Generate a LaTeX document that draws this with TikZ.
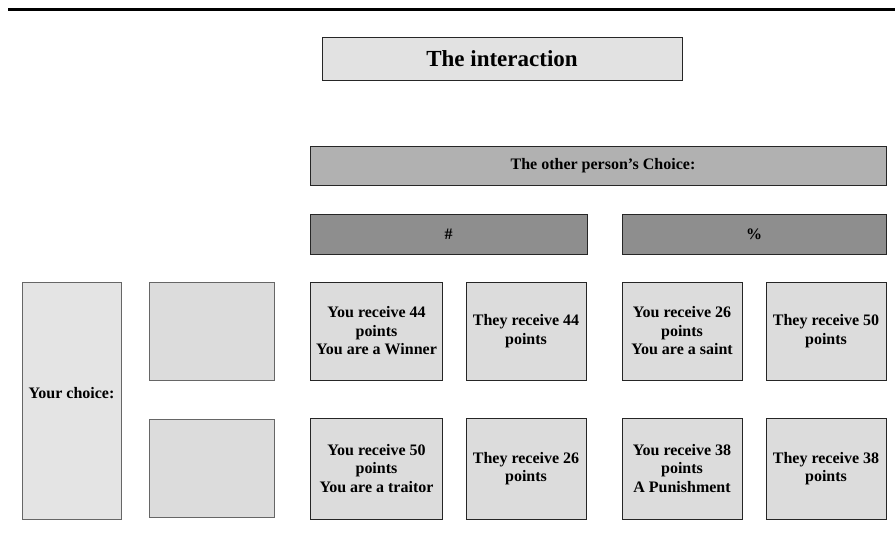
\documentclass[tikz,border=0pt]{standalone}
\usepackage{fontspec}
\setmainfont{Liberation Serif}
\usepackage{tikz}

\definecolor{titlegray}{HTML}{E2E2E2}
\definecolor{headgray}{HTML}{B1B1B1}
\definecolor{optgray}{HTML}{8E8E8E}
\definecolor{cellgray}{HTML}{DCDCDC}
\definecolor{sidegray}{HTML}{E4E4E4}

\begin{document}
\begin{tikzpicture}[x=1pt, y=-1pt,
    label/.style={inner sep=0, align=center, font=\fontsize{16}{18.5}\selectfont\bfseries},
    box/.style={label, rectangle, draw=black!85, line width=0.9pt},
    payoff/.style={box, fill=cellgray, minimum width=132pt, minimum height=98pt},
    payoffnarrow/.style={payoff, minimum width=120pt},
    blank/.style={box, draw=black!60, fill=cellgray, minimum width=125pt, minimum height=98pt}]
        \useasboundingbox (0,0) rectangle (895,542);

        % top rule
        \coordinate (ruleL) at (8,9.5);
        \coordinate (ruleR) at (895,9.5);
        \draw [line width=3pt] (ruleL) -- (ruleR);

        \node [box, fill=titlegray, minimum width=360pt, minimum height=43pt,
          font=\fontsize{23}{26}\selectfont\bfseries] (title) at (502,59) {The interaction};

        \node [box, fill=headgray, minimum width=576pt, minimum height=39pt] (other) at (598,165.5) {};
        \node [label] (otherText) at (603,166) {The other person's Choice:};
        \node [box, fill=optgray, minimum width=277pt, minimum height=40pt] (optA) at (448.5,234) {\#};
        \node [box, fill=optgray, minimum width=264pt, minimum height=40pt] (optB) at (754,234) {\%};

        \node [box, draw=black!60, fill=sidegray, minimum width=99pt, minimum height=237pt] (mine) at (71.5,400.5) {};
        \node [label] (mineText) at (71.5,393) {Your choice:};

        \foreach \r/\y in {1/331, 2/468.5} {
          \node [blank] (blank\r) at (212,\y) {};
        }

        \node [payoff] (a11) at (376.5,331) {You receive 44\\points\\You are a Winner};
        \node [payoffnarrow] (b11) at (526,331) {They receive 44\\points};
        \node [payoffnarrow] (a12) at (682,331) {You receive 26\\points\\You are a saint};
        \node [payoffnarrow] (b12) at (826,331) {They receive 50\\points};

        \node [payoff, minimum height=101pt] (a21) at (376.5,468.5) {You receive 50\\points\\You are a traitor};
        \node [payoffnarrow, minimum height=101pt] (b21) at (526,468.5) {They receive 26\\points};
        \node [payoffnarrow, minimum height=101pt] (a22) at (682,468.5) {You receive 38\\points\\A Punishment};
        \node [payoffnarrow, minimum height=101pt] (b22) at (826,468.5) {They receive 38\\points};
      \end{tikzpicture}
\end{document}
